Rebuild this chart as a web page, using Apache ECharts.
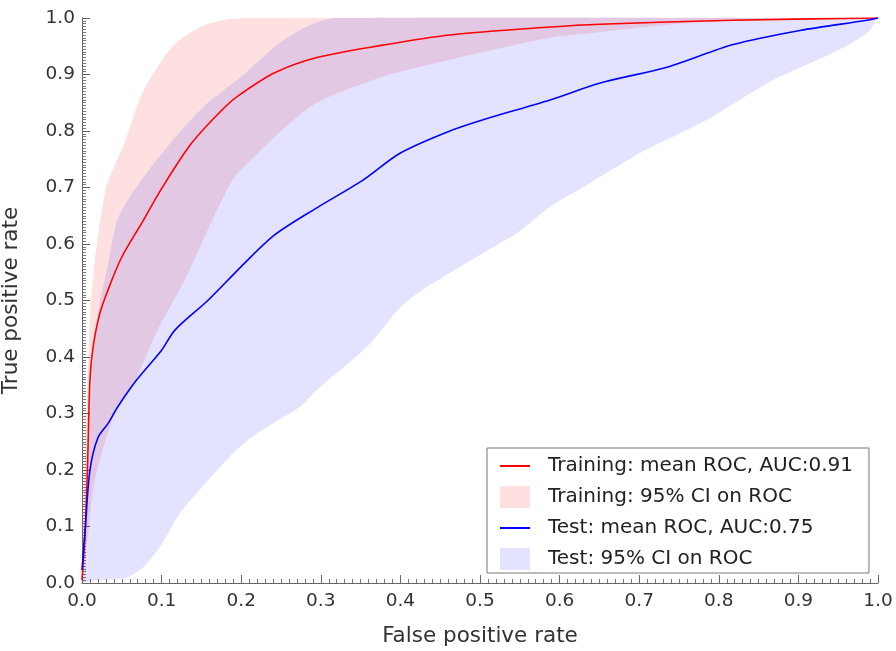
<!DOCTYPE html>
<html>
<head>
<meta charset="utf-8">
<script src="https://cdn.jsdelivr.net/npm/echarts@6/dist/echarts.min.js"></script>
<style>
  html, body { margin: 0; padding: 0; background: #fff; }
  #main { width: 896px; height: 651px; }
</style>
</head>
<body>
<div id="main"></div>
<script>
// mean ROC curves
var trainMeanFpr = [0, 0.004, 0.007, 0.01, 0.014, 0.022, 0.033, 0.05, 0.075, 0.1, 0.138, 0.18, 0.2, 0.242, 0.295, 0.378, 0.462, 0.588, 0.651, 0.818, 1];
var trainMeanTpr = [0.005, 0.094, 0.21, 0.36, 0.418, 0.475, 0.52, 0.577, 0.637, 0.698, 0.779, 0.843, 0.866, 0.903, 0.93, 0.952, 0.97, 0.984, 0.989, 0.996, 1];
var testMeanFpr = [0, 0.004, 0.01, 0.02, 0.033, 0.045, 0.069, 0.1, 0.117, 0.158, 0.2, 0.242, 0.295, 0.353, 0.4, 0.462, 0.504, 0.588, 0.651, 0.735, 0.818, 0.902, 0.986, 1];
var testMeanTpr = [0.023, 0.094, 0.2, 0.257, 0.283, 0.312, 0.36, 0.412, 0.448, 0.5, 0.56, 0.616, 0.664, 0.713, 0.761, 0.8, 0.82, 0.855, 0.885, 0.913, 0.953, 0.978, 0.996, 1];

// 95% CI bands
var trainUpperFpr = [0, 0.003, 0.007, 0.01, 0.016, 0.03, 0.04, 0.055, 0.075, 0.1, 0.12, 0.15, 0.18, 0.21, 1];
var trainUpperTpr = [0.03, 0.2, 0.35, 0.47, 0.57, 0.70, 0.735, 0.785, 0.865, 0.925, 0.958, 0.985, 0.997, 1, 1];
var trainLowerFpr = [0, 0.008, 0.016, 0.041, 0.067, 0.095, 0.129, 0.158, 0.19, 0.21, 0.25, 0.295, 0.378, 0.462, 0.588, 0.65, 0.75, 0.85, 1];
var trainLowerTpr = [0, 0.09, 0.18, 0.30, 0.359, 0.448, 0.536, 0.625, 0.715, 0.745, 0.80, 0.85, 0.896, 0.926, 0.965, 0.975, 0.99, 0.998, 1];
var testUpperFpr = [0, 0.005, 0.0125, 0.02, 0.033, 0.045, 0.073, 0.117, 0.158, 0.2, 0.25, 0.29, 0.32, 1];
var testUpperTpr = [0, 0.1, 0.36, 0.478, 0.566, 0.645, 0.71, 0.789, 0.85, 0.896, 0.958, 0.99, 1, 1];
var testLowerFpr = [0, 0.02, 0.05, 0.06, 0.077, 0.098, 0.123, 0.148, 0.19, 0.22, 0.274, 0.295, 0.358, 0.4, 0.428, 0.504, 0.546, 0.588, 0.629, 0.701, 0.785, 0.868, 0.943, 0.986, 1];
var testLowerTpr = [0, 0.005, 0.008, 0.012, 0.028, 0.064, 0.124, 0.165, 0.23, 0.265, 0.312, 0.342, 0.418, 0.488, 0.519, 0.584, 0.619, 0.666, 0.70, 0.761, 0.82, 0.89, 0.938, 0.973, 1];

var legendNames = [
  "Training: mean ROC, AUC:0.91",
  "Training: 95% CI on ROC",
  "Test: mean ROC, AUC:0.75",
  "Test: 95% CI on ROC"
];

function zip(xs, ys) {
  return xs.map(function (x, i) { return [x, ys[i]]; });
}

// polygon between upper and lower curves, mapped through the axes
function band(upper, lower, fill) {
  return function (params, api) {
    var pts = [];
    upper.forEach(function (p) { pts.push(api.coord(p)); });
    lower.slice().reverse().forEach(function (p) { pts.push(api.coord(p)); });
    return {
      type: "polygon",
      shape: { points: pts, smooth: 0.25 },
      style: { fill: fill }
    };
  };
}

var pinkFill = "rgba(255,0,0,0.12)";
var blueFill = "rgba(0,0,255,0.11)";
var font = "DejaVu Sans, sans-serif";
var lineIcon = "path://M0,0 L30,0 L30,2 L0,2 Z";

var myChart = echarts.init(document.getElementById("main"));
var option = {
  animation: false,
  grid: { left: 82, right: 18, top: 18, bottom: 68, outerBoundsMode: "none" },
  legend: {
    orient: "vertical",
    left: 487,
    top: 448,
    data: [
      { name: legendNames[0], icon: lineIcon },
      { name: legendNames[1], icon: "rect" },
      { name: legendNames[2], icon: lineIcon },
      { name: legendNames[3], icon: "rect" }
    ],
    itemWidth: 30,
    itemHeight: 22,
    itemGap: 10,
    padding: [8, 16, 3, 13],
    backgroundColor: "#fff",
    borderColor: "#777",
    borderWidth: 1,
    textStyle: { fontFamily: font, fontSize: 20, color: "#222", padding: [0, 0, 0, 13] }
  },
  xAxis: {
    type: "value",
    min: 0,
    max: 1,
    interval: 0.1,
    name: "False positive rate",
    nameLocation: "middle",
    nameGap: 42,
    nameTextStyle: { fontFamily: font, fontSize: 21.5, color: "#333" },
    axisLine: { lineStyle: { color: "#666", width: 1 } },
    axisTick: { inside: true, length: 8, lineStyle: { color: "#666" } },
    minorTick: { show: true, splitNumber: 10, length: 4, lineStyle: { color: "#777" } },
    splitLine: { show: false },
    axisLabel: {
      fontFamily: font, fontSize: 18.5, color: "#333", margin: 9,
      formatter: function (v) { return v.toFixed(1); }
    }
  },
  yAxis: {
    type: "value",
    min: 0,
    max: 1,
    interval: 0.1,
    name: "True positive rate",
    nameLocation: "middle",
    nameRotate: 90,
    nameGap: 60,
    nameTextStyle: { fontFamily: font, fontSize: 21.5, color: "#333" },
    axisLine: { show: true, lineStyle: { color: "#666", width: 1 } },
    axisTick: { show: true, inside: true, length: 8, lineStyle: { color: "#666" } },
    minorTick: { show: true, splitNumber: 20, length: 4, lineStyle: { color: "#777" } },
    splitLine: { show: false },
    axisLabel: {
      fontFamily: font, fontSize: 18.5, color: "#333", margin: 7,
      formatter: function (v) { return v.toFixed(1); }
    }
  },
  series: [
    {
      name: legendNames[1],
      type: "custom",
      coordinateSystem: "cartesian2d",
      data: [[0, 0]],
      itemStyle: { color: pinkFill },
      renderItem: band(zip(trainUpperFpr, trainUpperTpr), zip(trainLowerFpr, trainLowerTpr), pinkFill),
      z: 1
    },
    {
      name: legendNames[3],
      type: "custom",
      coordinateSystem: "cartesian2d",
      data: [[0, 0]],
      itemStyle: { color: blueFill },
      renderItem: band(zip(testUpperFpr, testUpperTpr), zip(testLowerFpr, testLowerTpr), blueFill),
      z: 2
    },
    {
      name: legendNames[0],
      type: "line",
      data: zip(trainMeanFpr, trainMeanTpr),
      showSymbol: false,
      smooth: 0.3,
      itemStyle: { color: "#f00" },
      lineStyle: { color: "#f00", width: 1.6 },
      z: 3
    },
    {
      name: legendNames[2],
      type: "line",
      data: zip(testMeanFpr, testMeanTpr),
      showSymbol: false,
      smooth: 0.3,
      itemStyle: { color: "#00f" },
      lineStyle: { color: "#00f", width: 1.6 },
      z: 3
    }
  ]
};
option && myChart.setOption(option);
window.addEventListener("resize", function () {
  myChart.resize();
});
</script>
</body>
</html>
